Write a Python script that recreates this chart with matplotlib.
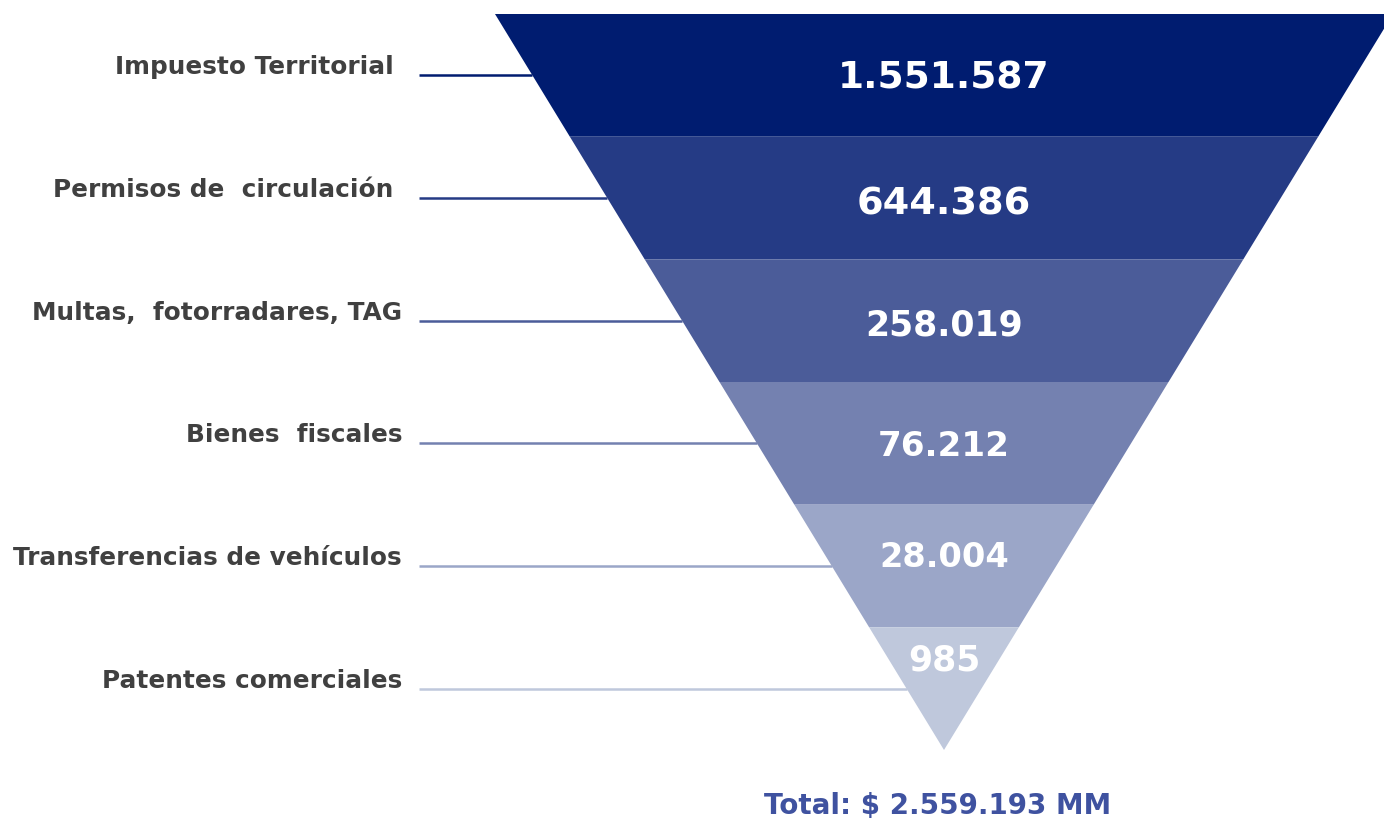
import matplotlib.pyplot as plt
from matplotlib.patches import Polygon

# data
categories = ["Impuesto Territorial ", "Permisos de  circulación ", "Multas,  fotorradares, TAG",
              "Bienes  fiscales", "Transferencias de vehículos", "Patentes comerciales"]
values = [1551587, 644386, 258019, 76212, 28004, 985]
value_labels = ["1.551.587", "644.386", "258.019", "76.212", "28.004", "985"]
total_label = "Total: $ 2.559.193 MM"

colors = ["#001c70", "#253b85", "#4b5c99", "#7481b0", "#9ba6c8", "#bfc8dc"]
value_sizes = [27, 27.5, 25, 24.6, 24.2, 25]
value_dy = [3, 6, 5, 3, -9, -28]

W, H = 1384, 822
top, apex, cx, halfw = 14, 750, 944, 449
font = "DejaVu Sans"

fig = plt.figure(figsize=(W / 100, H / 100), dpi=100)
ax = fig.add_axes([0, 0, 1, 1])
ax.set_xlim(0, W)
ax.set_ylim(H, 0)
ax.axis("off")


def half_width(y):
    return halfw * (apex - y) / (apex - top)


n = len(values)
h = (apex - top) / n
for i, (cat, lab, col) in enumerate(zip(categories, value_labels, colors)):
    y0 = top + i * h
    y1 = y0 + h
    w0, w1 = half_width(y0), half_width(y1)
    poly = Polygon([(cx - w0, y0), (cx + w0, y0), (cx + w1, y1), (cx - w1, y1)],
                   closed=True, facecolor=col, edgecolor="none")
    ax.add_patch(poly)

    ym = y0 + h / 2
    ax.plot([419, cx - half_width(ym)], [ym, ym], color=col, lw=1.8, solid_capstyle="butt")
    ax.text(402, ym - 8, cat, ha="right", va="center", fontsize=17.8,
            fontweight="bold", color="#404040", family=font)

    ax.text(cx, ym + value_dy[i], lab, ha="center", va="center", fontsize=value_sizes[i],
            fontweight="bold", color="white", family=font)

ax.text(cx - 6, 806, total_label, ha="center", va="center", fontsize=20,
        fontweight="bold", color="#3f52a0", family=font)

fig.savefig("out.png", dpi=100)
